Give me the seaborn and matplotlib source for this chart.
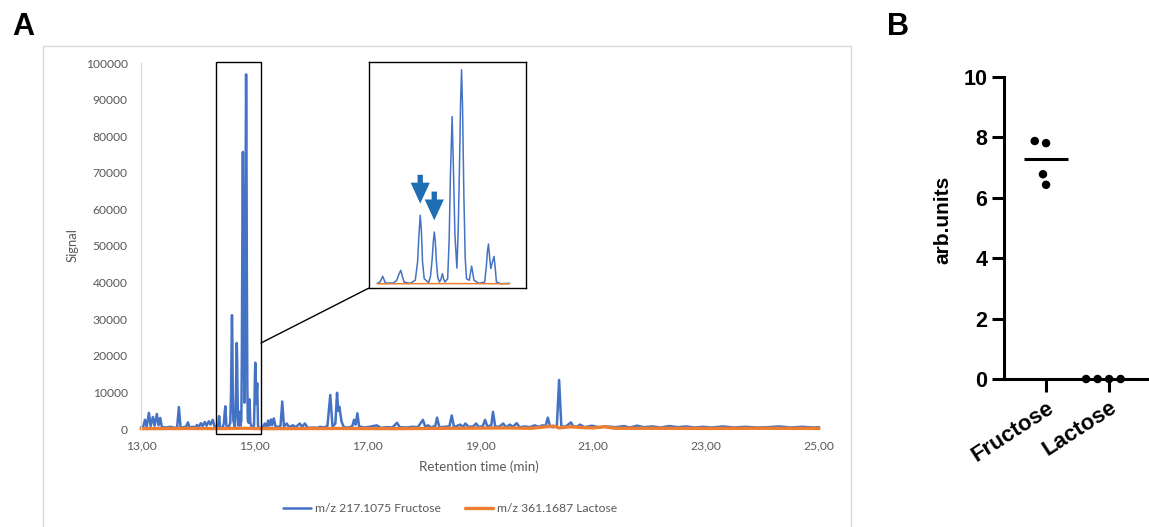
import numpy as np
import pandas as pd
import matplotlib
matplotlib.use("Agg")
import matplotlib.pyplot as plt
import seaborn as sns
from matplotlib.patches import Rectangle, ConnectionPatch

# ---------------- data ----------------
fructose_time = [
    13.00, 13.04, 13.07, 13.10, 13.14, 13.17, 13.21, 13.24, 13.28, 13.31, 13.34, 13.37,
    13.45, 13.52, 13.60, 13.64, 13.67, 13.70, 13.76, 13.80, 13.83, 13.86, 13.92, 13.96,
    13.99, 14.02, 14.06, 14.09, 14.13, 14.16, 14.20, 14.23, 14.27, 14.30, 14.33,
    # zoomed region
    14.350, 14.366, 14.375, 14.383, 14.391, 14.399, 14.448,
    14.468, 14.480, 14.492, 14.502, 14.512, 14.549,
    14.580, 14.594, 14.602, 14.610, 14.617, 14.624, 14.634,
    14.661, 14.672, 14.682, 14.689, 14.695, 14.701, 14.708, 14.716, 14.726,
    14.735, 14.744, 14.752, 14.760,
    14.776, 14.785, 14.793, 14.803, 14.811, 14.820, 14.832,
    14.840, 14.848, 14.854, 14.860, 14.866, 14.874, 14.882, 14.890,
    14.907, 14.914, 14.921, 14.928, 14.935, 14.966,
    15.000, 15.010, 15.017, 15.023, 15.030, 15.037, 15.047, 15.057, 15.064, 15.071,
    15.098, 15.150,
    # after the zoomed region
    15.19, 15.22, 15.25, 15.27, 15.30, 15.32, 15.35, 15.38, 15.42, 15.47, 15.50, 15.53,
    15.58, 15.62, 15.69, 15.74, 15.81, 15.85, 15.90, 15.95, 16.05, 16.12, 16.17, 16.25,
    16.30, 16.35, 16.39, 16.44, 16.47, 16.49, 16.51, 16.55, 16.59, 16.68, 16.74, 16.77,
    16.80, 16.83, 16.86, 16.95, 17.05, 17.17, 17.25, 17.35, 17.45, 17.53, 17.58, 17.70,
    17.80, 17.90, 17.99, 18.03, 18.08, 18.14, 18.21, 18.24, 18.28, 18.38, 18.46, 18.50,
    18.54, 18.65, 18.70, 18.74, 18.80, 18.88, 18.93, 18.98, 19.05, 19.09, 19.13, 19.20,
    19.23, 19.27, 19.35, 19.41, 19.46, 19.53, 19.58, 19.65, 19.70, 19.80, 19.88, 19.97,
    20.03, 20.11, 20.16, 20.20, 20.24, 20.30, 20.36, 20.40, 20.44, 20.52, 20.61, 20.65,
    20.72, 20.77, 20.85, 20.98, 21.10, 21.25, 21.40, 21.55, 21.65, 21.78, 21.90, 22.05,
    22.20, 22.35, 22.50, 22.65, 22.80, 22.95, 23.10, 23.30, 23.50, 23.70, 23.90, 24.10,
    24.30, 24.50, 24.70, 24.90, 25.00,
]
fructose_signal = [
    500, 700, 2500, 600, 4400, 800, 3300, 900, 4100, 1000, 3000, 500,
    400, 600, 300, 500, 6000, 400, 500, 700, 1800, 400, 600, 400,
    1100, 500, 1600, 800, 1900, 900, 2100, 1200, 2500, 800, 400,
    # zoomed region
    300, 900, 2200, 3500, 2000, 450, 450,
    1700, 4200, 6200, 3500, 900, 300,
    1700, 10000, 22000, 31100, 24000, 10000, 2400,
    600, 3500, 11000, 19000, 23500, 19500, 10000, 3000, 900,
    2000, 4700, 2200, 900,
    2400, 20000, 50000, 75700, 52000, 22000, 7200,
    25000, 55000, 82000, 96900, 80000, 40000, 12000, 2400,
    1700, 5000, 8100, 5000, 1700, 300,
    900, 8000, 15000, 18100, 12000, 7000, 10000, 12500, 7000, 900,
    150, 300,
    # after the zoomed region
    1500, 600, 2300, 900, 2600, 1000, 2900, 800, 500, 900, 7500, 700,
    1500, 500, 1000, 500, 1500, 600, 1500, 300, 400, 300, 600, 400,
    900, 9300, 600, 1500, 9900, 5000, 6100, 2000, 500, 400, 800, 2500,
    1200, 4300, 700, 400, 600, 1000, 300, 500, 400, 1700, 500, 400,
    600, 500, 2500, 600, 1000, 400, 900, 3100, 500, 600, 800, 3700,
    500, 1200, 500, 1500, 600, 700, 1500, 500, 800, 2500, 700, 1000,
    4700, 600, 700, 1500, 500, 1200, 600, 1600, 500, 700, 500, 1000,
    600, 1000, 800, 3100, 600, 500, 700, 13400, 600, 700, 1800, 700,
    600, 1200, 500, 900, 500, 700, 500, 800, 400, 900, 500, 700,
    400, 800, 500, 700, 400, 600, 400, 700, 400, 600, 400, 500,
    700, 400, 600, 400, 500,
]
lactose_time = [13.00, 14.00, 14.35, 14.80, 15.15, 16.50, 17.50, 18.50, 19.50, 19.90,
                20.10, 20.30, 20.40, 20.60, 20.80, 21.00, 21.20, 21.40, 22.00, 23.00,
                24.00, 25.00]
lactose_signal = [100, 150, 100, 200, 100, 150, 100, 200, 300, 200,
                  500, 800, 300, 600, 400, 300, 600, 200, 200, 150,
                  200, 150]
series_labels = ["m/z 217.1075 Fructose", "m/z 361.1687 Lactose"]

x_ticks = [13, 15, 17, 19, 21, 23, 25]
x_tick_labels = ["13,00", "15,00", "17,00", "19,00", "21,00", "23,00", "25,00"]
y_ticks = [0, 10000, 20000, 30000, 40000, 50000, 60000, 70000, 80000, 90000, 100000]

zoom_window = (14.35, 15.15)
arrow_peak_time = [14.610, 14.695]
arrow_peak_signal = [31100, 23500]

groups = ["Fructose", "Lactose"]
fructose_units = [7.81, 7.88, 6.78, 6.43]
lactose_units = [0.0, 0.0, 0.0, 0.0]

# ---------------- style ----------------
BLUE = "#4472C4"
ORANGE = "#ED7D31"
GREY_TXT = "#595959"
GREY_LINE = "#D9D9D9"
ARROW = "#1F6DB3"

sns.set_theme(style="white")
plt.rcParams["font.family"] = ["Lato", "DejaVu Sans"]

W, H = 1149, 527
fig = plt.figure(figsize=(W / 100, H / 100), dpi=100)


def fx(px):
    return px / W


def fy(py):
    return 1 - py / H


# outer chart frame (Excel style)
fig.patches.append(Rectangle((fx(43), -0.05), fx(851) - fx(43), fy(46) + 0.05,
                             transform=fig.transFigure, fill=False,
                             edgecolor=GREY_LINE, lw=1.0, zorder=0))

# ---------------- panel A ----------------
axA = fig.add_axes([fx(141), fy(429), fx(819) - fx(141), (429 - 63) / H])
dfF = pd.DataFrame({"t": fructose_time, "s": fructose_signal})
dfL = pd.DataFrame({"t": lactose_time, "s": lactose_signal})
sns.lineplot(data=dfF, x="t", y="s", ax=axA, color=BLUE, lw=1.8, estimator=None,
             sort=False, label=series_labels[0], clip_on=False)
sns.lineplot(data=dfL, x="t", y="s", ax=axA, color=ORANGE, lw=2.4, estimator=None,
             sort=False, label=series_labels[1], clip_on=False)
axA.set_xlim(13, 25)
axA.set_ylim(0, 100000)
axA.set_xticks(x_ticks, labels=x_tick_labels)
axA.set_yticks(y_ticks, labels=[str(v) for v in y_ticks])
axA.tick_params(axis="both", length=0, labelsize=8.7, labelcolor=GREY_TXT)
axA.tick_params(axis="x", pad=8.5)
axA.tick_params(axis="y", pad=9.5)
for side in ["top", "right", "bottom"]:
    axA.spines[side].set_visible(False)
axA.spines["left"].set_color(GREY_LINE)
axA.spines["left"].set_linewidth(0.9)
axA.set_xlabel("")
axA.set_ylabel("")
axA.grid(False)

handles, labels = axA.get_legend_handles_labels()
axA.get_legend().remove()
fig.legend(handles, labels, loc="center", bbox_to_anchor=(fx(450), fy(509)), ncol=2,
           frameon=False, fontsize=8.7, handlelength=2.3, columnspacing=2.0,
           handletextpad=0.35, labelcolor=GREY_TXT)

fig.text(fx(73), fy(245), "Signal", rotation=90, ha="center", va="center",
         fontsize=9.4, color=GREY_TXT)
fig.text(fx(479), fy(467), "Retention time (min)", ha="center", va="center",
         fontsize=9.6, color=GREY_TXT)

# highlight box on the main trace
axA.add_patch(Rectangle((14.327, -1400), 15.124 - 14.327, 101600, fill=False,
                        edgecolor="black", lw=1.0, clip_on=False, zorder=5))

# inset
axI = fig.add_axes([fx(369), fy(288), fx(526) - fx(369), (288 - 62) / H])
dfFi = dfF[(dfF.t >= zoom_window[0]) & (dfF.t <= zoom_window[1])]
dfLi = dfL[(dfL.t >= zoom_window[0]) & (dfL.t <= zoom_window[1])]
sns.lineplot(data=dfFi, x="t", y="s", ax=axI, color=BLUE, lw=1.1, estimator=None, sort=False)
sns.lineplot(data=dfLi, x="t", y="s", ax=axI, color=ORANGE, lw=1.1, estimator=None, sort=False)
axI.set_xlim(14.30, 15.25)
axI.set_ylim(-1800, 100400)
axI.set_xticks([])
axI.set_yticks([])
axI.set_xlabel("")
axI.set_ylabel("")
for sp in axI.spines.values():
    sp.set_visible(True)
    sp.set_color("black")
    sp.set_linewidth(1.0)

for t, s in zip(arrow_peak_time, arrow_peak_signal):
    axI.annotate("", xy=(t, s + 5300), xytext=(t, s + 18300),
                 arrowprops=dict(arrowstyle="simple,head_length=1.25,head_width=1.15,tail_width=0.32",
                                 color=ARROW, shrinkA=0, shrinkB=0, lw=0))

con = ConnectionPatch(xyA=(15.124, 23500), coordsA=axA.transData,
                      xyB=(0, 0), coordsB=axI.transAxes, color="black", lw=1.0)
fig.add_artist(con)

# ---------------- panel B ----------------
arial = ["Liberation Sans", "DejaVu Sans"]
axB = fig.add_axes([fx(1004), fy(379), (1152 - 1004) / W, (379 - 77) / H])
dfB = pd.DataFrame({"group": ["Fructose"] * len(fructose_units) + ["Lactose"] * len(lactose_units),
                    "value": fructose_units + lactose_units})
sns.swarmplot(data=dfB, x="group", y="value", ax=axB, color="black", size=6.1,
              linewidth=1.8, edgecolor="none", clip_on=False, zorder=4)
sns.pointplot(data=dfB, x="group", y="value", ax=axB, estimator="median", errorbar=None,
              color="black", markers="_", linestyles="none", markersize=31,
              markeredgewidth=2.2)
axB.set_xlim(-0.667, 1.68)
axB.set_ylim(0, 10)
axB.set_yticks([0, 2, 4, 6, 8, 10])
for side in ["top", "right"]:
    axB.spines[side].set_visible(False)
for side in ["left", "bottom"]:
    axB.spines[side].set_color("black")
    axB.spines[side].set_linewidth(2.2)
    axB.spines[side].set_zorder(3)
axB.tick_params(axis="both", direction="out", length=9, width=2.2, color="black",
                labelcolor="black", left=True, bottom=True)
axB.tick_params(axis="y", pad=3)
axB.tick_params(axis="x", pad=4)
axB.set_xlabel("")
axB.set_ylabel("")
axB.grid(False)
for lab in axB.get_yticklabels():
    lab.set_family(arial)
    lab.set_fontweight("bold")
    lab.set_fontsize(15.5)
axB.set_xticks([0, 1], labels=groups)
for lab in axB.get_xticklabels():
    lab.set_family(arial)
    lab.set_fontweight("bold")
    lab.set_fontsize(16)
    lab.set_rotation(33)
    lab.set_ha("right")
    lab.set_rotation_mode("anchor")
fig.text(fx(943), fy(220), "arb.units", rotation=90, ha="center", va="center",
         fontsize=15, fontweight="bold", family=arial, color="black")

# panel letters
fig.text(fx(23), fy(27), "A", ha="center", va="center", fontsize=22, fontweight="bold",
         family=arial, color="black")
fig.text(fx(898), fy(27), "B", ha="center", va="center", fontsize=22, fontweight="bold",
         family=arial, color="black")

fig.savefig("out.png", dpi=100)
